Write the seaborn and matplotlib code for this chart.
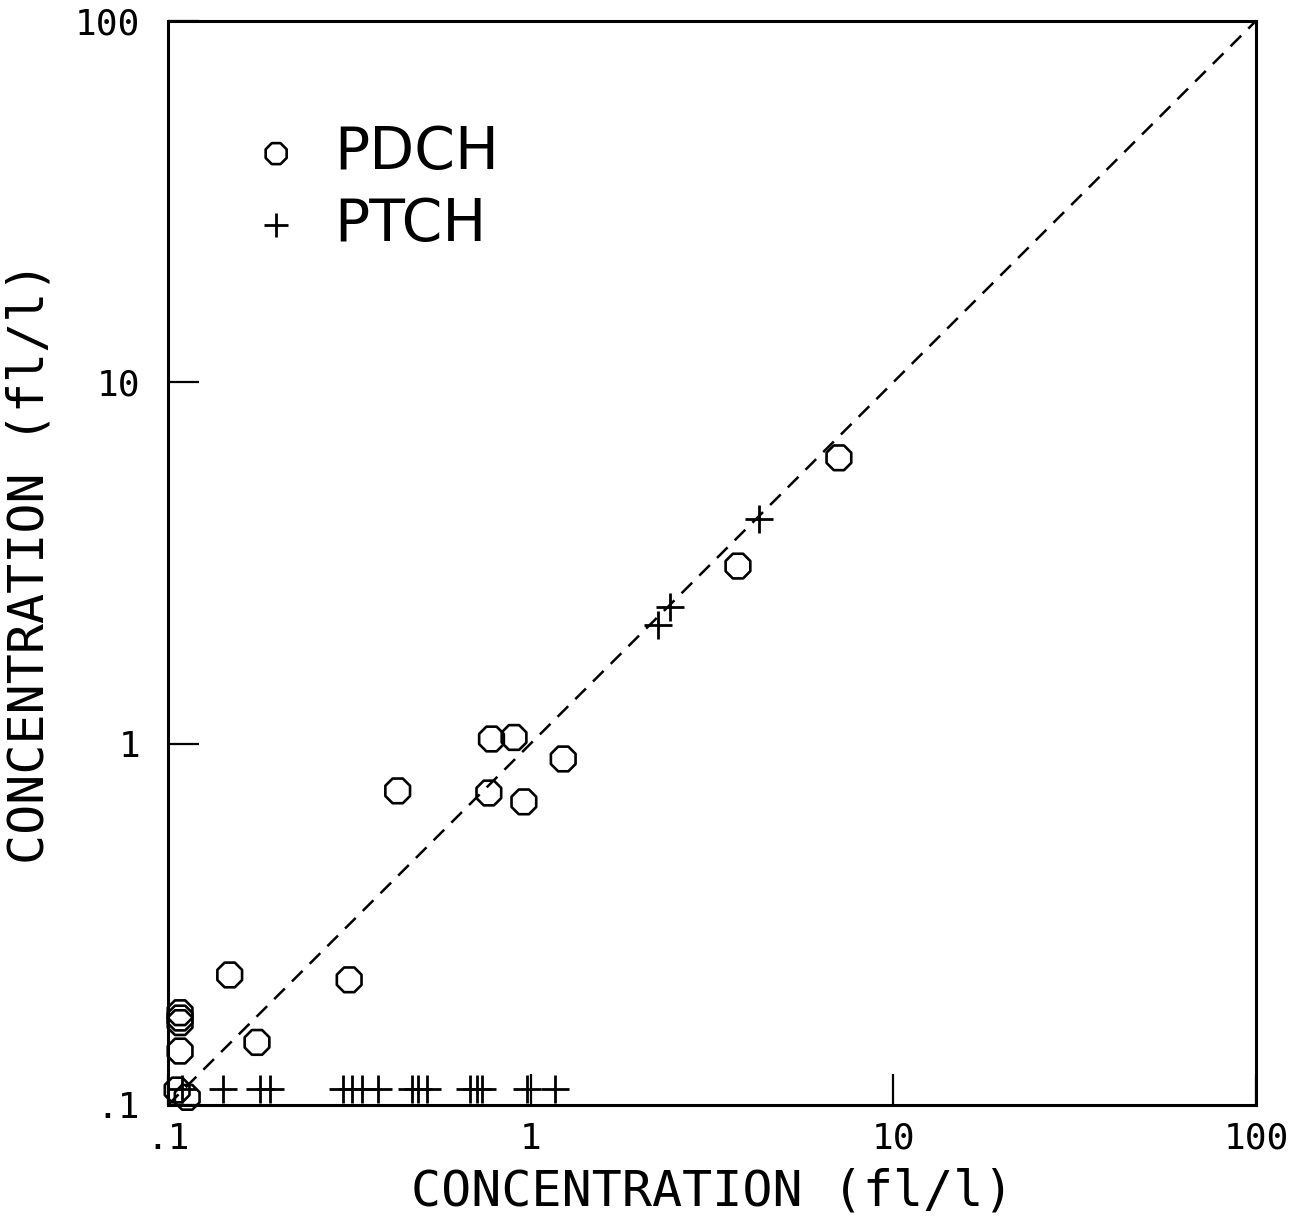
import numpy as np
import pandas as pd
import matplotlib
matplotlib.use("Agg")
import matplotlib.pyplot as plt
import seaborn as sns

# PDCH: measured (x) vs. second method (y), fl/l
pdch_x = [7.08, 3.73, 1.23, 0.90, 0.78, 0.767, 0.958, 0.43, 0.148, 0.316, 0.176,
          0.108, 0.108, 0.108, 0.108, 0.106, 0.113]
pdch_y = [6.18, 3.10, 0.907, 1.04, 1.03, 0.73, 0.69, 0.74, 0.229, 0.222, 0.149,
          0.180, 0.174, 0.169, 0.141, 0.110, 0.105]

# PTCH
ptch_x = [2.24, 2.42, 4.26,
          0.109, 0.142, 0.179, 0.191, 0.304, 0.322, 0.343, 0.379,
          0.471, 0.489, 0.518, 0.680, 0.711, 0.734, 0.977, 1.167]
ptch_y = [2.13, 2.39, 4.19,
          0.111, 0.111, 0.111, 0.111, 0.111, 0.111, 0.111, 0.111,
          0.111, 0.111, 0.111, 0.111, 0.111, 0.111, 0.111, 0.111]

tick_vals = [0.1, 1, 10, 100]
tick_labels = [".1", "1", "10", "100"]
axis_label = "CONCENTRATION (fl/l)"

sns.set_theme(style="white")
plt.rcParams["font.family"] = ["DejaVu Sans Mono", "DejaVu Sans"]

df_pdch = pd.DataFrame({"x": pdch_x, "y": pdch_y})
df_ptch = pd.DataFrame({"x": ptch_x, "y": ptch_y})

fig = plt.figure(figsize=(12.94, 12.18), dpi=100)
ax = fig.add_axes([0.1298, 0.0928, 0.8408, 0.890])
ax.set_xscale("log")
ax.set_yscale("log")

# 1:1 reference line
ax.plot(tick_vals, tick_vals, color="black", lw=1.8, ls=(0, (6, 4)), zorder=1)

sns.scatterplot(data=df_pdch, x="x", y="y", ax=ax, marker="8", s=370,
                facecolor="none", edgecolor="black", linewidth=1.9,
                label="PDCH", zorder=3, clip_on=False)
sns.scatterplot(data=df_ptch, x="x", y="y", ax=ax, marker="+", s=420,
                color="black", linewidth=2.0, label="PTCH", zorder=3,
                clip_on=False)

ax.set_xlim(0.1, 100)
ax.set_ylim(0.1, 100)
ax.set_xticks(tick_vals)
ax.set_xticklabels(tick_labels)
ax.set_yticks(tick_vals)
ax.set_yticklabels(tick_labels)
ax.minorticks_off()
ax.tick_params(axis="both", which="major", direction="in", length=22,
               width=1.6, color="black", labelsize=26, labelcolor="black",
               bottom=True, left=True, top=False, right=False)
ax.tick_params(axis="x", pad=12)
ax.tick_params(axis="y", pad=20)

for sp in ax.spines.values():
    sp.set_visible(True)
    sp.set_color("black")
    sp.set_linewidth(2.2)

ax.set_xlabel(axis_label, fontsize=36, color="black", va="center")
ax.set_ylabel(axis_label, fontsize=36, color="black", va="center")
ax.xaxis.set_label_coords(0.5, -0.080)
ax.yaxis.set_label_coords(-0.127, 0.5)

leg = ax.legend(loc="upper left", bbox_to_anchor=(0.078, 0.905), frameon=False,
                prop={"family": "DejaVu Sans", "size": 42},
                handlelength=0.8, handletextpad=0.6, labelspacing=0.25,
                markerscale=0.85, borderaxespad=0, borderpad=0)
for t in leg.get_texts():
    t.set_color("black")

fig.savefig("out.png", dpi=100, facecolor="white")
